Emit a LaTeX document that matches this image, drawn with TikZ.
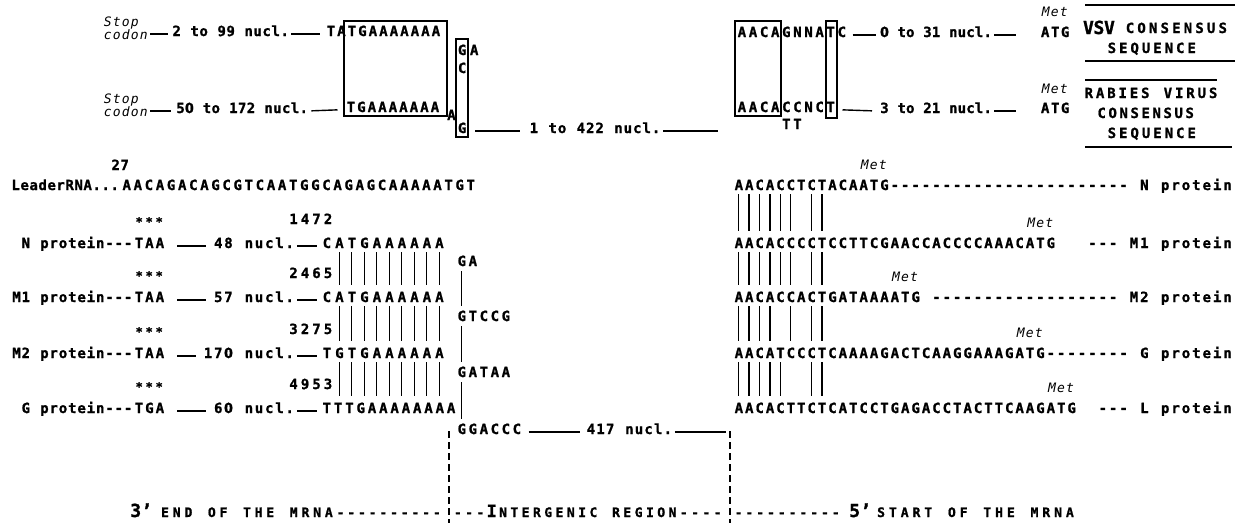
\documentclass[tikz,border=0pt]{standalone}
\usepackage{fontspec}
\setmonofont{DejaVu Sans Mono}[BoldFeatures={FakeBold=1.2}]
\newfontfamily\zerofont{DejaVu Sans Condensed}[BoldFeatures={FakeBold=1.2}]
\usetikzlibrary{calc}
\newdimen\sqpitch
\def\sqend{\sqend}
\newcommand\sq[2]{\begingroup\sqpitch=#1pt\relax\sqloop#2\sqend\endgroup}
\def\sqloop#1{\ifx#1\sqend\else\hbox to\sqpitch{\hss\sqchar#1\hss}\expandafter\sqloop\fi}
\newcommand\sqchar[1]{\ifx0#1{\zerofont 0}\else#1\fi}
\newcommand\fseq{\ttfamily\bfseries\fontsize{14}{16}\selectfont}
\newcommand\fital{\ttfamily\mdseries\itshape\fontsize{13}{15}\selectfont}
\newcommand\fbig{\ttfamily\bfseries\fontsize{18}{20}\selectfont}
\newcommand\fsc{\ttfamily\bfseries\fontsize{13}{15}\selectfont}
\newcommand\fstar{\ttfamily\bfseries\fontsize{12}{14}\selectfont}
\newcommand\bigI{{\fontsize{17}{17}\selectfont I}}
\begin{document}
\begin{tikzpicture}[x=1pt,y=-1pt,
  sq/.style={inner sep=0pt, anchor=base west, font=\fseq},
  sqe/.style={inner sep=0pt, anchor=base east, font=\fseq},
  itl/.style={inner sep=0pt, anchor=base west, font=\fital},
  emd/.style={line width=1.4pt},
  bar/.style={line width=1.3pt},
  boxl/.style={line width=1.2pt},
  rulel/.style={line width=1.6pt},
  dsh/.style={line width=1.4pt, dash pattern=on 7pt off 4pt}]
\useasboundingbox (0,0) rectangle (1235,523);

% ---------- top left consensus ----------
\node[itl] (stopA) at (103,26) {\sq{9}{Stop}};
\node[itl] (codonA) at (103,39) {\sq{9}{codon}};
\node[sq] (nuA) at (172,36) {\sq{9}{2~to~99~nucl.}};
\node[sq] (seqA) at (325.5,36) {\sq{10.5}{TATGAAAAAAA}};
\draw[emd] ($(nuA.mid west)+(-22,0)$) -- ($(nuA.mid west)+(-4,0)$);
\draw[emd] ($(nuA.mid east)+(2,0)$) -- ($(seqA.mid west)+(-6,0)$);
\draw[boxl] (344,21) rectangle (447,116);

\node[itl] (stopB) at (103,103) {\sq{9}{Stop}};
\node[itl] (codonB) at (103,116) {\sq{9}{codon}};
\node[sq] (nuB) at (176,113) {\sq{8.8}{50~to~172~nucl.}};
\node[sq] (seqB) at (345.5,112) {\sq{10.5}{TGAAAAAAA}};
\node[sq] (aB) at (446,120) {\sq{10.5}{A}};
\draw[emd] ($(nuB.mid west)+(-26,0)$) -- ($(nuB.mid west)+(-5,0)$);
\draw[emd] ($(nuB.mid east)+(3,0)$) -- ($(seqB.mid west)+(-8,0)$);

\draw[boxl] (456,39) rectangle (468,137);
\node[sq] (gaG) at (456,55) {\sq{12}{GA}};
\node[sq] (gaC) at (456,73) {\sq{12}{C}};
\node[sq] (gaG2) at (456,133) {\sq{12}{G}};
\node[sq] (n422) at (529,133) {\sq{9.4}{1~to~422~nucl.}};
\draw[emd] ($(gaG2.mid west)+(19,0)$) -- ($(n422.mid west)+(-9,0)$);
\draw[emd] ($(n422.mid east)+(2,0)$) -- ($(n422.mid east)+(57,0)$);

% ---------- top right ----------
\draw[boxl] (735,21) rectangle (781,116);
\draw[boxl] (826,21) rectangle (837,118);
\node[sq] (seqC) at (736.2,37) {\sq{11.1}{AACAGNNATC}};
\node[sq] (nuC) at (880,37) {\sq{8.6}{0~to~31~nucl.}};
\node[sq] (atgC) at (1040,37) {\sq{10}{ATG}};
\node[itl] (metC) at (1041,16) {\sq{9}{Met}};
\draw[emd] ($(seqC.mid east)+(5,0)$) -- ($(nuC.mid west)+(-4,0)$);
\draw[emd] ($(nuC.mid east)+(2,0)$) -- ($(atgC.mid west)+(-24,0)$);

\node[sq] (seqD) at (736.2,112) {\sq{11.1}{AACACCNCT}};
\node[sq] (ttD) at (780.6,129) {\sq{11.1}{TT}};
\node[sq] (nuD) at (880,113) {\sq{8.6}{3~to~21~nucl.}};
\node[sq] (atgD) at (1040,113) {\sq{10}{ATG}};
\node[itl] (metD) at (1041,93) {\sq{9}{Met}};
\draw[emd] ($(seqD.mid east)+(6,0)$) -- ($(nuD.mid west)+(-8,0)$);
\draw[emd] ($(nuD.mid east)+(2,0)$) -- ($(atgD.mid west)+(-24,0)$);

\node[sq, font=\fbig] (vsv) at (1083,34) {\sq{10.5}{VSV}};
\node[sq] (cons1) at (1124,33) {\sq{11.6}{CONSENSUS}};
\node[sq] (seq1) at (1106,53) {\sq{11.4}{SEQUENCE}};
\node[sq] (rab) at (1083,98) {\sq{11.3}{RABIES~VIRUS}};
\node[sq] (cons2) at (1096,118) {\sq{11}{CONSENSUS}};
\node[sq] (seq2) at (1106,138) {\sq{11.4}{SEQUENCE}};
\draw[rulel] (1085,5) -- (1235,5);
\draw[rulel] (1085,61) -- (1235,61);
\draw[rulel] (1085,80) -- (1217,80);
\draw[rulel] (1085,147) -- (1232,147);

% ---------- leader ----------
\node[sq] (n27) at (111,170) {\sq{9}{27}};
\node[sq] (lead) at (11,190) {\sq{9}{LeaderRNA...}};
\node[sq] (leadseq) at (121,190) {\sq{11.1}{AACAGACAGCGTCAATGGCAGAGCAAAAATGT}};

% ---------- left rows ----------
\node[sqe] (labA) at (133,248) {\sq{9.3}{N~protein---}};
\node[sq] (stcA) at (133.5,248) {\sq{10.5}{TAA}};
\node[sq, font=\fstar] (stA) at (134,226) {\sq{10}{***}};
\node[sqe] (nucA) at (295,248) {\sq{10.2}{48~nucl.}};
\node[sqe] (numA) at (334,224) {\sq{11.5}{1472}};
\node[sq] (seqLA) at (320.5,248) {\sq{12.5}{CATGAAAAAA}};
\draw[emd] ($(stcA.mid east)+(12,0)$) -- ($(nucA.mid west)+(-7,0)$);
\draw[emd] ($(nucA.mid east)+(2,0)$) -- ($(seqLA.mid west)+(-4,0)$);

\node[sqe] (labB) at (133,302) {\sq{9.3}{M1~protein---}};
\node[sq] (stcB) at (133.5,302) {\sq{10.5}{TAA}};
\node[sq, font=\fstar] (stB) at (134,280) {\sq{10}{***}};
\node[sqe] (nucB) at (295,302) {\sq{10.2}{57~nucl.}};
\node[sqe] (numB) at (334,278) {\sq{11.5}{2465}};
\node[sq] (seqLB) at (320.5,302) {\sq{12.5}{CATGAAAAAA}};
\draw[emd] ($(stcB.mid east)+(12,0)$) -- ($(nucB.mid west)+(-7,0)$);
\draw[emd] ($(nucB.mid east)+(2,0)$) -- ($(seqLB.mid west)+(-4,0)$);

\node[sqe] (labC) at (133,358) {\sq{9.3}{M2~protein---}};
\node[sq] (stcC) at (133.5,358) {\sq{10.5}{TAA}};
\node[sq, font=\fstar] (stC) at (134,336) {\sq{10}{***}};
\node[sqe] (nucC) at (295,358) {\sq{10.2}{170~nucl.}};
\node[sqe] (numC) at (334,334) {\sq{11.5}{3275}};
\node[sq] (seqLC) at (320.5,358) {\sq{12.5}{TGTGAAAAAA}};
\draw[emd] ($(stcC.mid east)+(12,0)$) -- ($(nucC.mid west)+(-7,0)$);
\draw[emd] ($(nucC.mid east)+(2,0)$) -- ($(seqLC.mid west)+(-4,0)$);

\node[sqe] (labD) at (133,413) {\sq{9.3}{G~protein---}};
\node[sq] (stcD) at (133.5,413) {\sq{10.5}{TGA}};
\node[sq, font=\fstar] (stD) at (134,391) {\sq{10}{***}};
\node[sqe] (nucD) at (295,413) {\sq{10.2}{60~nucl.}};
\node[sqe] (numD) at (334,389) {\sq{11.5}{4953}};
\node[sq] (seqLD) at (321,413) {\sq{11.3}{TTTGAAAAAAAA}};
\draw[emd] ($(stcD.mid east)+(12,0)$) -- ($(nucD.mid west)+(-7,0)$);
\draw[emd] ($(nucD.mid east)+(2,0)$) -- ($(seqLD.mid west)+(-4,0)$);

\foreach \up/\dn in {seqLA/seqLB, seqLB/seqLC, seqLC/seqLD}
  \foreach \i in {1,...,9}
    \draw[bar] ($(\up.base west)+({(\i+0.5)*12.5},4)$) -- ($(\up.base west |- \dn.base west)+({(\i+0.5)*12.5},-17)$);

% ---------- middle ----------
\node[sq] (mGA) at (456.2,266) {\sq{11}{GA}};
\node[sq] (mGT) at (456.2,321) {\sq{11}{GTCCG}};
\node[sq] (mGAT) at (456.2,377) {\sq{11}{GATAA}};
\node[sq] (mGG) at (456.2,434) {\sq{11}{GGACCC}};
\draw[bar] ($(mGA.base west)+(5.5,5)$) -- ($(mGT.base west)+(5.5,-15)$);
\draw[bar] ($(mGT.base west)+(5.5,5)$) -- ($(mGAT.base west)+(5.5,-15)$);
\draw[bar] ($(mGAT.base west)+(5.5,5)$) -- ($(mGG.base west)+(5.5,-15)$);
\node[sq] (n417) at (586,434) {\sq{9.6}{417~nucl.}};
\coordinate (vlT) at (449,431);
\coordinate (vlB) at (449,523);
\coordinate (vrT) at (730,431);
\coordinate (vrB) at (730,523);
\draw[emd] ($(mGG.mid east)+(6,0)$) -- ($(n417.mid west)+(-6,0)$);
\draw[emd] ($(n417.mid east)+(2,0)$) -- ($(n417.mid east -| vrT)+(-4,0)$);
\draw[dsh] (vlT) -- (vlB);
\draw[dsh] (vrT) -- (vrB);

% ---------- right rows ----------
\node[sq] (rA) at (733.5,190) {\sq{10.4}{AACACCTCTACAATG}};
\node[sqe] (tA) at (1233,190) {\sq{10.4}{-----------------------~N~protein}};
\node[itl, anchor=base] (mA) at ($(rA.base west)+(140.4,-21)$) {\sq{9}{Met}};

\node[sq] (rB) at (733.5,248) {\sq{10.4}{AACACCCCTCCTTCGAACCACCCCAAACATG}};
\node[sqe] (tB) at (1233,248) {\sq{10.4}{~~---~M1~protein}};
\node[itl, anchor=base] (mB) at ($(rB.base west)+(306.8,-21)$) {\sq{9}{Met}};

\node[sq] (rC) at (733.5,302) {\sq{10.4}{AACACCACTGATAAAATG}};
\node[sqe] (tC) at (1233,302) {\sq{10.4}{~------------------~M2~protein}};
\node[itl, anchor=base] (mC) at ($(rC.base west)+(171.6,-21)$) {\sq{9}{Met}};

\node[sq] (rD) at (733.5,358) {\sq{10.4}{AACATCCCTCAAAAGACTCAAGGAAAGATG}};
\node[sqe] (tD) at (1233,358) {\sq{10.4}{--------~G~protein}};
\node[itl, anchor=base] (mD) at ($(rD.base west)+(296.4,-21)$) {\sq{9}{Met}};

\node[sq] (rE) at (733.5,413) {\sq{10.4}{AACACTTCTCATCCTGAGACCTACTTCAAGATG}};
\node[sqe] (tE) at (1233,413) {\sq{10.4}{~---~L~protein}};
\node[itl, anchor=base] (mE) at ($(rE.base west)+(327.6,-21)$) {\sq{9}{Met}};

\foreach \i in {0,1,2,3,4,5,7,8}
  \draw[bar] ($(rA.base west)+({(\i+0.5)*10.4},4)$) -- ($(rA.base west |- rB.base west)+({(\i+0.5)*10.4},-17)$);
\foreach \i in {0,1,2,3,4,5,7,8}
  \draw[bar] ($(rB.base west)+({(\i+0.5)*10.4},4)$) -- ($(rB.base west |- rC.base west)+({(\i+0.5)*10.4},-17)$);
\foreach \i in {0,1,2,3,5,7,8}
  \draw[bar] ($(rC.base west)+({(\i+0.5)*10.4},4)$) -- ($(rC.base west |- rD.base west)+({(\i+0.5)*10.4},-17)$);
\foreach \i in {0,1,2,3,4,7,8}
  \draw[bar] ($(rD.base west)+({(\i+0.5)*10.4},4)$) -- ($(rD.base west |- rE.base west)+({(\i+0.5)*10.4},-17)$);

% ---------- bottom labels ----------
\node[sq, font=\fbig] (e3) at (130,517) {\sq{11}{3’}};
\node[sq, font=\fsc] (e3t) at (159,517) {\sq{11.7}{END~OF~THE~MRNA}};
\node[sq, font=\fsc] (e3d) at (335,517) {\sq{10.7}{----------}};
\node[sq, font=\fsc] (ig) at (452,517) {\sq{11.3}{---\bigI NTERGENIC~REGION----}};
\node[sq, font=\fsc] (s5d) at (733,517) {\sq{10.8}{----------}};
\node[sq, font=\fbig] (s5) at (849,517) {\sq{11}{5’}};
\node[sq, font=\fsc] (s5t) at (875,517) {\sq{11.8}{START~OF~THE~MRNA}};
\end{tikzpicture}
\end{document}
